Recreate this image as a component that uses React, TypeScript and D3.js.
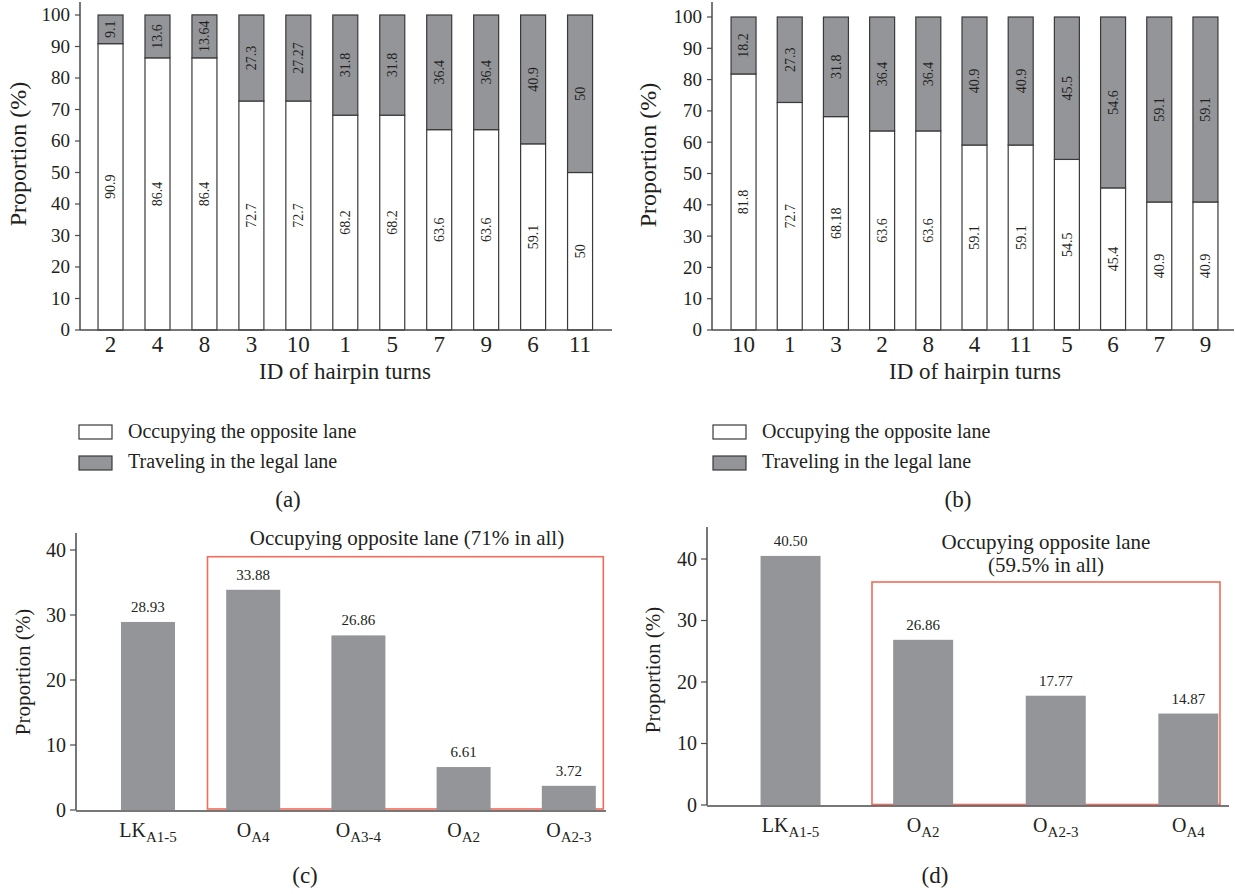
import React from "react";
import * as d3 from "d3";

// ---------- data ----------
// (a)
const idsA = ["2", "4", "8", "3", "10", "1", "5", "7", "9", "6", "11"];
const occupyingA = [90.9, 86.4, 86.4, 72.7, 72.7, 68.2, 68.2, 63.6, 63.6, 59.1, 50];
const legalA = [9.1, 13.6, 13.64, 27.3, 27.27, 31.8, 31.8, 36.4, 36.4, 40.9, 50];
// (b)
const idsB = ["10", "1", "3", "2", "8", "4", "11", "5", "6", "7", "9"];
const occupyingB = [81.8, 72.7, 68.18, 63.6, 63.6, 59.1, 59.1, 54.5, 45.4, 40.9, 40.9];
const legalB = [18.2, 27.3, 31.8, 36.4, 36.4, 40.9, 40.9, 45.5, 54.6, 59.1, 59.1];
const ticksTop = [0, 10, 20, 30, 40, 50, 60, 70, 80, 90, 100];
const legendLabels = ["Occupying the opposite lane", "Traveling in the legal lane"];
// (c)
const catMainC = ["LK", "O", "O", "O", "O"];
const catSubC = ["A1-5", "A4", "A3-4", "A2", "A2-3"];
const valuesC = [28.93, 33.88, 26.86, 6.61, 3.72];
const annotC = ["Occupying opposite lane (71% in all)"];
// (d)
const catMainD = ["LK", "O", "O", "O"];
const catSubD = ["A1-5", "A2", "A2-3", "A4"];
const valuesD = [40.5, 26.86, 17.77, 14.87];
const annotD = ["Occupying opposite lane", "(59.5% in all)"];
const ticksBottom = [0, 10, 20, 30, 40];

// ---------- style ----------
const FONT = "'Liberation Serif', 'Times New Roman', serif";
const TXT = "#231f20";
const GRAY = "#939598";
const EDGE = "#3a3a3a";
const AXIS = "#4a4a4a";
const RED = "#f06c5b";

type StackCfg = {
  xRange: [number, number];
  pi: number;
  po: number;
  y0: number;
  y100: number;
  axisX: number;
  axisTop: number;
  axisRight: number;
  yTitleX: number;
  yTitleY: number;
  xTitleX: number;
  legendX: number;
  panelX: number;
  panel: string;
};

function StackedPanel({ ids, occ, legal, cfg }: { ids: string[]; occ: number[]; legal: number[]; cfg: StackCfg }) {
  const y = d3.scaleLinear().domain([0, 100]).range([cfg.y0, cfg.y100]);
  const x = d3.scaleBand<string>().domain(ids).range(cfg.xRange).paddingInner(cfg.pi).paddingOuter(cfg.po);
  const bw = x.bandwidth();
  const base = y(0);
  return (
    <g>
      {ids.map((id, i) => {
        const x0 = x(id) as number;
        const mid = y(occ[i]);
        const top = y(occ[i] + legal[i]);
        const cx = x0 + bw / 2;
        return (
          <g key={id}>
            <rect x={x0} y={mid} width={bw} height={base - mid} fill="#fff" stroke={EDGE} strokeWidth={1.2} />
            <rect x={x0} y={top} width={bw} height={mid - top} fill={GRAY} stroke={EDGE} strokeWidth={1.2} />
            <text
              transform={`translate(${cx},${(base + mid) / 2}) rotate(-90)`}
              textAnchor="middle"
              dy="0.35em"
              fontSize={14}
              fill={TXT}
            >
              {String(occ[i])}
            </text>
            <text
              transform={`translate(${cx},${(mid + top) / 2}) rotate(-90)`}
              textAnchor="middle"
              dy="0.35em"
              fontSize={14}
              fill={TXT}
            >
              {String(legal[i])}
            </text>
            <text x={cx} y={base + 21.5} textAnchor="middle" fontSize={23} fill={TXT}>
              {id}
            </text>
          </g>
        );
      })}
      {/* axes */}
      <line x1={cfg.axisX} x2={cfg.axisX} y1={cfg.axisTop} y2={base} stroke={AXIS} strokeWidth={1.5} />
      <line x1={cfg.axisX} x2={cfg.axisRight} y1={base} y2={base} stroke={AXIS} strokeWidth={1.5} />
      {ticksTop.map((t) => (
        <g key={t}>
          <line x1={cfg.axisX - 5} x2={cfg.axisX} y1={y(t)} y2={y(t)} stroke={AXIS} strokeWidth={1.2} />
          <text x={cfg.axisX - 10} y={y(t)} dy="0.34em" textAnchor="end" fontSize={19} fill={TXT}>
            {t}
          </text>
        </g>
      ))}
      <text
        transform={`translate(${cfg.yTitleX},${cfg.yTitleY}) rotate(-90)`}
        textAnchor="middle"
        fontSize={24}
        fill={TXT}
      >
        Proportion (%)
      </text>
      <text x={cfg.xTitleX} y={379} textAnchor="middle" fontSize={23} fill={TXT}>
        ID of hairpin turns
      </text>
      {/* legend */}
      {legendLabels.map((lab, i) => (
        <g key={lab}>
          <rect
            x={cfg.legendX}
            y={425 + i * 31}
            width={33}
            height={14}
            fill={i === 0 ? "#fff" : GRAY}
            stroke={EDGE}
            strokeWidth={1.2}
          />
          <text x={cfg.legendX + 49} y={438 + i * 30} fontSize={20} fill={TXT}>
            {lab}
          </text>
        </g>
      ))}
      <text x={cfg.panelX} y={507} textAnchor="middle" fontSize={23} fill={TXT}>
        {cfg.panel}
      </text>
    </g>
  );
}

type BarCfg = {
  xRange: [number, number];
  pi: number;
  po: number;
  y0: number;
  y40: number;
  axisX: number;
  axisTop: number;
  axisRight: number;
  yTitleX: number;
  yTitleY: number;
  box: [number, number, number, number];
  annotX: number;
  annotY: number;
  panelX: number;
  panel: string;
};

function BarPanel({
  mains,
  subs,
  values,
  annot,
  cfg,
}: {
  mains: string[];
  subs: string[];
  values: number[];
  annot: string[];
  cfg: BarCfg;
}) {
  const keys = mains.map((m, i) => m + subs[i]);
  const y = d3.scaleLinear().domain([0, 40]).range([cfg.y0, cfg.y40]);
  const x = d3.scaleBand<string>().domain(keys).range(cfg.xRange).paddingInner(cfg.pi).paddingOuter(cfg.po);
  const bw = x.bandwidth();
  const base = y(0);
  const [bx0, by0, bx1, by1] = cfg.box;
  return (
    <g>
      <rect x={bx0} y={by0} width={bx1 - bx0} height={by1 - by0} fill="none" stroke={RED} strokeWidth={1.6} />
      {keys.map((k, i) => {
        const x0 = x(k) as number;
        const top = y(values[i]);
        const cx = x0 + bw / 2;
        return (
          <g key={k}>
            <rect x={x0} y={top} width={bw} height={base - top} fill={GRAY} />
            <text x={cx} y={top - 10} textAnchor="middle" fontSize={15} fill={TXT}>
              {values[i].toFixed(2)}
            </text>
            <text x={cx} y={base + 27} textAnchor="middle" fontSize={20} fill={TXT}>
              {mains[i]}
              <tspan fontSize={15} dy={5}>
                {subs[i]}
              </tspan>
            </text>
          </g>
        );
      })}
      <line x1={cfg.axisX} x2={cfg.axisX} y1={cfg.axisTop} y2={base} stroke={AXIS} strokeWidth={1.5} />
      <line x1={cfg.axisX} x2={cfg.axisRight} y1={base + 1} y2={base + 1} stroke={AXIS} strokeWidth={1.5} />
      {ticksBottom.map((t) => (
        <g key={t}>
          <line x1={cfg.axisX - 6} x2={cfg.axisX} y1={y(t)} y2={y(t)} stroke={AXIS} strokeWidth={1.2} />
          <text x={cfg.axisX - 10} y={y(t)} dy="0.34em" textAnchor="end" fontSize={20} fill={TXT}>
            {t}
          </text>
        </g>
      ))}
      <text
        transform={`translate(${cfg.yTitleX},${cfg.yTitleY}) rotate(-90)`}
        textAnchor="middle"
        fontSize={21}
        fill={TXT}
      >
        Proportion (%)
      </text>
      {annot.map((line, i) => (
        <text key={line} x={cfg.annotX} y={cfg.annotY + i * 23} textAnchor="middle" fontSize={21} fill={TXT}>
          {line}
        </text>
      ))}
      <text x={cfg.panelX} y={883} textAnchor="middle" fontSize={23} fill={TXT}>
        {cfg.panel}
      </text>
    </g>
  );
}

const cfgA: StackCfg = {
  xRange: [86.3, 604.3],
  pi: 0.4675,
  po: 0.25,
  y0: 330,
  y100: 15,
  axisX: 80,
  axisTop: 2,
  axisRight: 612,
  yTitleX: 26,
  yTitleY: 154,
  xTitleX: 345,
  legendX: 79,
  panelX: 288,
  panel: "(a)",
};

const cfgB: StackCfg = {
  xRange: [719.5, 1229.5],
  pi: 0.4588,
  po: 0.25,
  y0: 330,
  y100: 17,
  axisX: 712,
  axisTop: 2,
  axisRight: 1234,
  yTitleX: 656,
  yTitleY: 155,
  xTitleX: 975,
  legendX: 713,
  panelX: 958,
  panel: "(b)",
};

const cfgC: BarCfg = {
  xRange: [78.9, 637.9],
  pi: 0.4867,
  po: 0.4,
  y0: 810,
  y40: 550,
  axisX: 76,
  axisTop: 533,
  axisRight: 606,
  yTitleX: 30,
  yTitleY: 672,
  box: [207.5, 556.7, 603.3, 809],
  annotX: 407,
  annotY: 545,
  panelX: 305,
  panel: "(c)",
};

const cfgD: BarCfg = {
  xRange: [707.5, 1271.4],
  pi: 0.5475,
  po: 0.4,
  y0: 805,
  y40: 559,
  axisX: 707,
  axisTop: 527,
  axisRight: 1229,
  yTitleX: 660,
  yTitleY: 670,
  box: [872, 582, 1220, 804.5],
  annotX: 1046,
  annotY: 549,
  panelX: 935,
  panel: "(d)",
};

export default function App() {
  return (
    <svg
      width={1235}
      height={894}
      viewBox="0 0 1235 894"
      style={{ position: "absolute", left: 0, top: 0, background: "#fff" }}
      fontFamily={FONT}
    >
      <rect width={1235} height={894} fill="#fff" />
      <StackedPanel ids={idsA} occ={occupyingA} legal={legalA} cfg={cfgA} />
      <StackedPanel ids={idsB} occ={occupyingB} legal={legalB} cfg={cfgB} />
      <BarPanel mains={catMainC} subs={catSubC} values={valuesC} annot={annotC} cfg={cfgC} />
      <BarPanel mains={catMainD} subs={catSubD} values={valuesD} annot={annotD} cfg={cfgD} />
    </svg>
  );
}
